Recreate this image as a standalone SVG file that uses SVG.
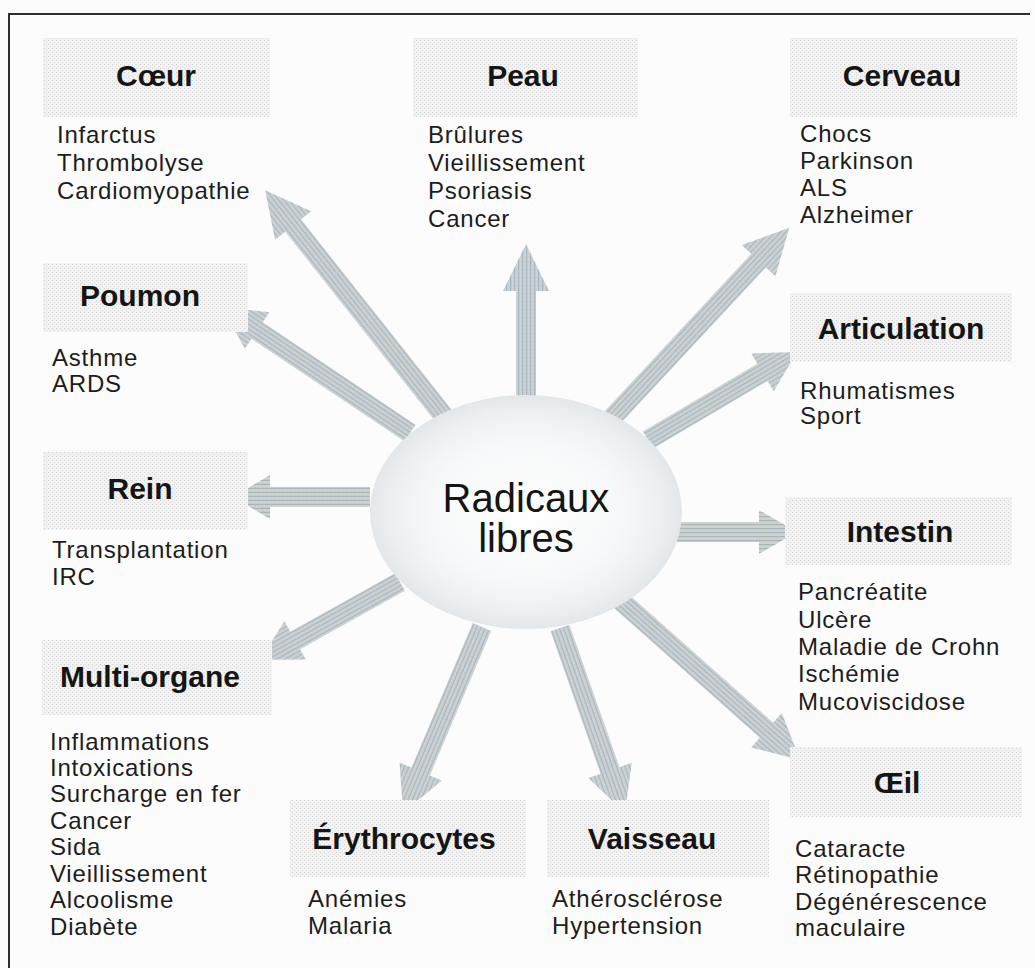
<svg xmlns="http://www.w3.org/2000/svg" width="1035" height="968" viewBox="0 0 1035 968">
<style>
.lbl{font-family:"Liberation Sans",Arial,sans-serif;font-weight:bold;font-size:30px;fill:#151515;text-anchor:middle}
.it{font-family:"Liberation Sans",Arial,sans-serif;font-size:24px;letter-spacing:0.8px;fill:#1c1c1c}
.ctr{font-family:"Liberation Sans",Arial,sans-serif;font-size:40px;fill:#151515;text-anchor:middle}
.box{fill:url(#speck)}
.arrow{fill:url(#arrfill)}
</style>
<defs>
<pattern id="speck" width="4" height="4" patternUnits="userSpaceOnUse">
<rect width="4" height="4" fill="#f2f2f2"/>
<rect x="0" y="0" width="1" height="1" fill="#d2d2d2"/>
<rect x="2" y="2" width="1" height="1" fill="#dcdcdc"/>
</pattern>
<pattern id="arrfill" width="4" height="4" patternUnits="userSpaceOnUse">
<rect width="4" height="4" fill="#c9d1d5"/>
<rect x="0" y="0" width="4" height="1.2" fill="#aab6bd"/>
<rect x="1" y="2" width="1" height="1" fill="#dadcc8"/>
</pattern>
<radialGradient id="sphere" cx="0.5" cy="0.5" r="0.5">
<stop offset="0" stop-color="#ffffff"/>
<stop offset="0.6" stop-color="#f7f8f9"/>
<stop offset="0.88" stop-color="#eceff0"/>
<stop offset="1" stop-color="#e3e7e9"/>
</radialGradient>
</defs>
<rect x="0" y="0" width="1035" height="968" fill="#fcfcfc"/>
<g id="frame" fill="none" stroke="#2e2e2e" stroke-width="2">
<line x1="8" y1="14" x2="1030" y2="14"/>
<line x1="9" y1="14" x2="9" y2="968"/>
</g>

<g id="connectors">
<path class="arrow" d="M0,-10 H248 V-23 L293,0 L248,23 V10 H0 Z" transform="translate(447 420) rotate(-128.36)"/>
<path class="arrow" d="M0,-10 H134 V-23 L181,0 L134,23 V10 H0 Z" transform="translate(526 425) rotate(-90)"/>
<path class="arrow" d="M0,-10 H215 V-23 L260,0 L215,23 V10 H0 Z" transform="translate(612 418) rotate(-47.03)"/>
<path class="arrow" d="M0,-10 H133 V-22 L173,0 L133,22 V10 H0 Z" transform="translate(648 440) rotate(-30.57)"/>
<path class="arrow" d="M0,-10 H184 V-22 L226,0 L184,22 V10 H0 Z" transform="translate(410 433) rotate(-146.17)"/>
<path class="arrow" d="M0,-10 H100 V-22 L137,0 L100,22 V10 H0 Z" transform="translate(370 497) rotate(180)"/>
<path class="arrow" d="M0,-10 H120 V-22 L160,0 L120,22 V10 H0 Z" transform="translate(400 582) rotate(150.88)"/>
<path class="arrow" d="M0,-10 H157 V-23 L202,0 L157,23 V10 H0 Z" transform="translate(482 627) rotate(113)"/>
<path class="arrow" d="M0,-10 H151 V-23 L196,0 L151,23 V10 H0 Z" transform="translate(560 628) rotate(70.64)"/>
<path class="arrow" d="M0,-10 H196 V-23 L241,0 L196,23 V10 H0 Z" transform="translate(620 600) rotate(41.63)"/>
<path class="arrow" d="M0,-10 H82 V-22 L120,0 L82,22 V10 H0 Z" transform="translate(677 532)"/>
</g>

<g id="radicaux">
<ellipse cx="526" cy="512" rx="156" ry="117" fill="url(#sphere)"/>
<text class="ctr" x="526" y="512">Radicaux</text>
<text class="ctr" x="526" y="552">libres</text>
</g>

<g id="coeur">
<rect class="box" x="43" y="38" width="227" height="79"/>
<text class="lbl" x="156" y="86">Cœur</text>
<text class="it"><tspan x="57" y="143">Infarctus</tspan><tspan x="57" y="171">Thrombolyse</tspan><tspan x="57" y="199">Cardiomyopathie</tspan></text>
</g>

<g id="peau">
<rect class="box" x="413" y="38" width="225" height="79"/>
<text class="lbl" x="523" y="86">Peau</text>
<text class="it"><tspan x="428" y="143">Brûlures</tspan><tspan x="428" y="171">Vieillissement</tspan><tspan x="428" y="199">Psoriasis</tspan><tspan x="428" y="227">Cancer</tspan></text>
</g>

<g id="cerveau">
<rect class="box" x="790" y="38" width="227" height="79"/>
<text class="lbl" x="902" y="86">Cerveau</text>
<text class="it"><tspan x="800" y="142">Chocs</tspan><tspan x="800" y="169">Parkinson</tspan><tspan x="800" y="196">ALS</tspan><tspan x="800" y="223">Alzheimer</tspan></text>
</g>

<g id="poumon">
<rect class="box" x="43" y="263" width="205" height="69"/>
<text class="lbl" x="140" y="306">Poumon</text>
<text class="it"><tspan x="52" y="366">Asthme</tspan><tspan x="52" y="392">ARDS</tspan></text>
</g>

<g id="articulation">
<rect class="box" x="790" y="293" width="222" height="69"/>
<text class="lbl" x="901" y="339">Articulation</text>
<text class="it"><tspan x="800" y="399">Rhumatismes</tspan><tspan x="800" y="424">Sport</tspan></text>
</g>

<g id="rein">
<rect class="box" x="43" y="452" width="205" height="78"/>
<text class="lbl" x="140" y="499">Rein</text>
<text class="it"><tspan x="52" y="558">Transplantation</tspan><tspan x="52" y="585">IRC</tspan></text>
</g>

<g id="intestin">
<rect class="box" x="785" y="497" width="227" height="68"/>
<text class="lbl" x="900" y="542">Intestin</text>
<text class="it"><tspan x="798" y="600">Pancréatite</tspan><tspan x="798" y="628">Ulcère</tspan><tspan x="798" y="655">Maladie de Crohn</tspan><tspan x="798" y="682">Ischémie</tspan><tspan x="798" y="710">Mucoviscidose</tspan></text>
</g>

<g id="multi-organe">
<rect class="box" x="42" y="640" width="230" height="75"/>
<text class="lbl" x="150" y="687">Multi-organe</text>
<text class="it"><tspan x="50" y="750">Inflammations</tspan><tspan x="50" y="776">Intoxications</tspan><tspan x="50" y="802">Surcharge en fer</tspan><tspan x="50" y="829">Cancer</tspan><tspan x="50" y="855">Sida</tspan><tspan x="50" y="882">Vieillissement</tspan><tspan x="50" y="908">Alcoolisme</tspan><tspan x="50" y="935">Diabète</tspan></text>
</g>

<g id="oeil">
<rect class="box" x="790" y="747" width="232" height="70"/>
<text class="lbl" x="897" y="793">Œil</text>
<text class="it"><tspan x="795" y="857">Cataracte</tspan><tspan x="795" y="883">Rétinopathie</tspan><tspan x="795" y="910">Dégénérescence</tspan><tspan x="795" y="936">maculaire</tspan></text>
</g>

<g id="erythrocytes">
<rect class="box" x="290" y="800" width="236" height="77"/>
<text class="lbl" x="404" y="849">Érythrocytes</text>
<text class="it"><tspan x="308" y="907">Anémies</tspan><tspan x="308" y="934">Malaria</tspan></text>
</g>

<g id="vaisseau">
<rect class="box" x="547" y="800" width="222" height="77"/>
<text class="lbl" x="652" y="849">Vaisseau</text>
<text class="it"><tspan x="552" y="907">Athérosclérose</tspan><tspan x="552" y="934">Hypertension</tspan></text>
</g>
</svg>
